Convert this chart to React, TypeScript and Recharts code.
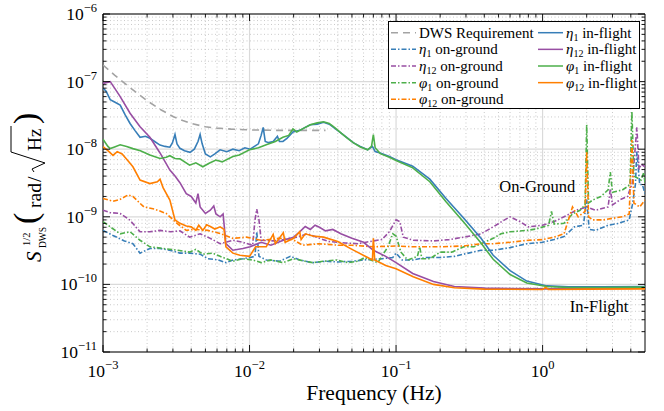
import React from 'react';
import { LineChart, Line, XAxis, YAxis, CartesianGrid, Legend, ReferenceArea, ReferenceDot, Label } from 'recharts';

// [frequency (Hz), S^1/2 (rad/sqrt(Hz))]
const dwsRequirement = [
  [1e-3, 1.76e-7], [1.2e-3, 1.25e-7], [1.5e-3, 8.4e-8], [2e-3, 5.2e-8], [2.5e-3, 3.8e-8], [3e-3, 3.05e-8],
  [3.5e-3, 2.65e-8], [4e-3, 2.4e-8], [5e-3, 2.15e-8], [6e-3, 2.05e-8], [7.5e-3, 1.98e-8], [1e-2, 1.93e-8],
  [1.5e-2, 1.9e-8], [2e-2, 1.9e-8], [3.3e-2, 1.9e-8],
];

const eta1Ground = [
  [1e-3, 6.3e-10], [1.17e-3, 5.3e-10], [1.4e-3, 4.4e-10], [1.6e-3, 4e-10], [1.79e-3, 2.9e-10], [2.09e-3, 3.4e-10],
  [2.45e-3, 3.4e-10], [2.86e-3, 3.2e-10], [3.35e-3, 2.9e-10], [3.9e-3, 2.9e-10], [4.6e-3, 2.8e-10], [5.2e-3, 2.4e-10],
  [6.1e-3, 2.3e-10], [6.9e-3, 2.1e-10], [7.7e-3, 2.3e-10], [9e-3, 2.4e-10], [1.01e-2, 2.5e-10], [1.09e-2, 2.6e-10],
  [1.12e-2, 6e-10], [1.16e-2, 2.6e-10], [1.3e-2, 2.3e-10], [1.6e-2, 2.2e-10], [1.9e-2, 2.6e-10], [2.2e-2, 2.3e-10],
  [2.7e-2, 2.1e-10], [3.3e-2, 2.2e-10], [4e-2, 2.15e-10], [5e-2, 2.2e-10], [6e-2, 2.3e-10], [7e-2, 2.35e-10],
  [8e-2, 2.4e-10], [9.5e-2, 2.5e-10], [0.1, 2.9e-10], [0.11, 2.3e-10], [0.131, 2.3e-10], [0.16, 2.5e-10],
  [0.2, 2.5e-10], [0.25, 2.6e-10], [0.29, 2.8e-10], [0.38, 3.2e-10], [0.46, 3.2e-10], [0.6, 3.5e-10],
  [0.78, 4e-10], [1.0, 4.2e-10], [1.2, 4.6e-10], [1.4, 5.1e-10], [1.65, 7.1e-10], [1.9, 7.5e-10], [2.0, 1.8e-9],
  [2.08, 6.5e-10], [2.3, 6.3e-10], [2.8, 7.5e-10], [3.3, 8e-10], [3.9, 9e-10], [4.1, 1.5e-9], [4.3, 3e-9],
  [4.4, 9.2e-9], [4.6, 3e-9], [4.8, 3e-9], [5, 2.2e-9],
];

const eta12Ground = [
  [1e-3, 1.25e-9], [1.12e-3, 1.15e-9], [1.31e-3, 1.12e-9], [1.53e-3, 8.9e-10], [1.79e-3, 6e-10], [2.09e-3, 6e-10],
  [2.45e-3, 6.3e-10], [2.9e-3, 6e-10], [3.35e-3, 6.2e-10], [3.9e-3, 5e-10], [4.6e-3, 5.6e-10], [5.4e-3, 4.8e-10],
  [6.3e-3, 4e-10], [6.9e-3, 4.2e-10], [7.7e-3, 4.5e-10], [9e-3, 4.2e-10], [1.05e-2, 3.8e-10], [1.09e-2, 9e-10],
  [1.12e-2, 1.3e-9], [1.16e-2, 9e-10], [1.2e-2, 4.5e-10], [1.45e-2, 4.4e-10], [1.7e-2, 4.6e-10], [2.1e-2, 5e-10],
  [2.5e-2, 5.6e-10], [3e-2, 4.8e-10], [3.5e-2, 4.3e-10], [4.5e-2, 4.1e-10], [5.5e-2, 4e-10], [7e-2, 4.4e-10],
  [8e-2, 4.6e-10], [0.09, 6e-10], [0.1, 9e-10], [0.106, 8.5e-10], [0.112, 5e-10], [0.131, 4.5e-10], [0.18, 4.4e-10],
  [0.23, 4.6e-10], [0.29, 5e-10], [0.38, 5.6e-10], [0.46, 7.1e-10], [0.55, 9e-10], [0.6, 1e-9], [0.7, 8.5e-10],
  [0.8, 7.1e-10], [1.0, 7.5e-10], [1.2, 8.5e-10], [1.4, 1e-9], [1.7, 1.25e-9], [2.0, 1.4e-9], [2.3, 1.25e-9],
  [2.8, 1.4e-9], [2.9, 2.6e-9], [3.0, 1.5e-9], [3.4, 1.8e-9], [3.8, 2e-9], [4.1, 3.2e-9], [4.4, 2.1e-8],
  [4.55, 5e-9], [4.7, 6e-9], [5, 5.5e-9],
];

const phi1Ground = [
  [1e-3, 8.5e-10], [1.12e-3, 7.1e-10], [1.31e-3, 5.6e-10], [1.53e-3, 6e-10], [1.79e-3, 4.5e-10], [2.09e-3, 3.6e-10],
  [2.57e-3, 3.4e-10], [3.25e-3, 3.2e-10], [3.9e-3, 3e-10], [4.3e-3, 3.3e-10], [4.8e-3, 2.8e-10], [5.6e-3, 2.9e-10],
  [6.3e-3, 2.6e-10], [7.7e-3, 2.2e-10], [9e-3, 2.4e-10], [1.05e-2, 2.3e-10], [1.2e-2, 2.1e-10], [1.4e-2, 2.3e-10],
  [1.69e-2, 2.1e-10], [2e-2, 2.4e-10], [2.4e-2, 2.2e-10], [2.7e-2, 2.1e-10], [3.2e-2, 2.2e-10], [3.9e-2, 2.3e-10],
  [4.7e-2, 2.1e-10], [5.5e-2, 2.2e-10], [6.1e-2, 2.5e-10], [7.5e-2, 2.1e-10], [8.8e-2, 3.6e-10], [0.095, 5.6e-10],
  [0.1, 5.2e-10], [0.108, 3e-10], [0.12, 2.3e-10], [0.14, 2.6e-10], [0.145, 3.6e-10], [0.15, 2.4e-10],
  [0.17, 2.4e-10], [0.2, 3e-10], [0.24, 3e-10], [0.29, 3.6e-10], [0.34, 3.6e-10], [0.38, 4e-10], [0.46, 4.8e-10],
  [0.52, 5.6e-10], [0.6, 6e-10], [0.78, 6.3e-10], [0.9, 6.6e-10], [1.1, 7.5e-10], [1.15, 1.2e-9], [1.2, 7.8e-10],
  [1.4, 8e-10], [1.6, 1.1e-9], [1.8, 1.25e-9], [1.95, 1.5e-9], [2.0, 2.3e-8], [2.06, 1.6e-9], [2.2, 1.77e-9],
  [2.5, 2e-9], [2.8, 2.5e-9], [2.9, 4.6e-9], [3.0, 2.3e-9], [3.5, 2.5e-9], [3.8, 2.8e-9], [3.95, 3e-9],
  [4.07, 3.6e-8], [4.2, 4e-9], [4.7, 3.5e-9], [4.9, 4.5e-9], [5, 3.2e-9],
];

const phi12Ground = [
  [1e-3, 1.87e-9], [1.17e-3, 1.7e-9], [1.3e-3, 1.8e-9], [1.48e-3, 2.1e-9], [1.6e-3, 2e-9], [1.9e-3, 1.4e-9],
  [2.25e-3, 1.3e-9], [2.7e-3, 1.12e-9], [3.2e-3, 8e-10], [3.7e-3, 6.3e-10], [4.2e-3, 6.5e-10], [5.2e-3, 6.3e-10],
  [6.4e-3, 5.6e-10], [7.7e-3, 4.8e-10], [9.5e-3, 5e-10], [1.2e-2, 4.5e-10], [1.6e-2, 4.8e-10], [1.98e-2, 4.6e-10],
  [2.3e-2, 3.8e-10], [3e-2, 4e-10], [4e-2, 3.8e-10], [5e-2, 3.8e-10], [7e-2, 3.6e-10], [0.1, 3.7e-10],
  [0.13, 3.6e-10], [0.2, 3.6e-10], [0.29, 3.7e-10], [0.38, 4e-10], [0.46, 4e-10], [0.6, 4.2e-10], [0.8, 4.5e-10],
  [1.0, 4.6e-10], [1.2, 5e-10], [1.4, 5.6e-10], [1.6, 1.4e-9], [1.75, 1e-9], [1.95, 1.2e-9], [2.0, 9.2e-9],
  [2.06, 1e-9], [2.2, 9e-10], [2.6, 9e-10], [3.0, 9.5e-10], [3.5, 1e-9], [3.9, 1.1e-9], [4.07, 1.37e-8],
  [4.2, 1.6e-9], [4.6, 1.4e-9], [5, 1.77e-9],
];

const eta1Flight = [
  [1e-3, 8e-8], [1.05e-3, 7.2e-8], [1.12e-3, 5.4e-8], [1.2e-3, 5e-8], [1.31e-3, 4.5e-8], [1.42e-3, 3.2e-8],
  [1.53e-3, 2.4e-8], [1.65e-3, 1.9e-8], [1.79e-3, 1.5e-8], [1.95e-3, 1.55e-8], [2.09e-3, 1.45e-8], [2.25e-3, 1.3e-8],
  [2.45e-3, 1.15e-8], [2.65e-3, 1.1e-8], [2.86e-3, 1.07e-8], [2.98e-3, 1.25e-8], [3.1e-3, 1.65e-8], [3.2e-3, 1.2e-8],
  [3.35e-3, 1.03e-8], [3.6e-3, 9.5e-9], [3.93e-3, 9e-9], [4.2e-3, 1e-8], [4.45e-3, 1.3e-8], [4.6e-3, 1.65e-8],
  [4.75e-3, 1.2e-8], [5e-3, 8.5e-9], [5.4e-3, 7.7e-9], [5.8e-3, 8.5e-9], [6.3e-3, 9.8e-9], [7e-3, 9.2e-9],
  [7.7e-3, 1e-8], [8.5e-3, 9.5e-9], [9.3e-3, 1.05e-8], [1.01e-2, 1e-8], [1.08e-2, 1.1e-8], [1.15e-2, 1.2e-8],
  [1.2e-2, 1.6e-8], [1.24e-2, 2.1e-8], [1.28e-2, 1.3e-8], [1.35e-2, 1.25e-8], [1.45e-2, 1.3e-8], [1.55e-2, 1.55e-8],
  [1.6e-2, 1.3e-8], [1.69e-2, 1.3e-8], [1.8e-2, 1.45e-8], [1.98e-2, 1.8e-8], [2.2e-2, 1.9e-8], [2.4e-2, 2.1e-8],
  [2.6e-2, 2.3e-8], [2.9e-2, 2.35e-8], [3.2e-2, 2.5e-8], [3.5e-2, 2.35e-8], [3.8e-2, 2.05e-8], [4.2e-2, 1.75e-8],
  [4.6e-2, 1.5e-8], [5.1e-2, 1.25e-8], [5.7e-2, 1.1e-8], [6.4e-2, 9.8e-9], [6.9e-2, 1.1e-8], [7.2e-2, 9.2e-9],
  [7.8e-2, 8.8e-9], [0.09, 7.8e-9], [0.1, 7e-9], [0.13, 5.6e-9], [0.17, 3.6e-9], [0.22, 1.85e-9], [0.29, 9.5e-10],
  [0.38, 4.8e-10], [0.46, 2.7e-10], [0.6, 1.6e-10], [0.78, 1.12e-10], [1.07, 9.5e-11], [1.5, 9.2e-11],
  [2.5, 9.2e-11], [5, 9.3e-11],
];

const eta12Flight = [
  [1e-3, 9.4e-8], [1.12e-3, 1e-7], [1.2e-3, 8e-8], [1.31e-3, 6e-8], [1.53e-3, 3.4e-8], [1.79e-3, 2.15e-8],
  [2.09e-3, 1.5e-8], [2.45e-3, 8.8e-9], [2.86e-3, 4.9e-9], [3.1e-3, 4e-9], [3.35e-3, 3.2e-9], [3.7e-3, 2.2e-9],
  [4e-3, 2e-9], [4.3e-3, 1.6e-9], [4.45e-3, 2.2e-9], [4.6e-3, 1.4e-9], [5e-3, 1.12e-9], [5.4e-3, 1.25e-9],
  [5.7e-3, 1.45e-9], [5.9e-3, 1.1e-9], [6.3e-3, 1e-9], [6.6e-3, 1.1e-9], [6.9e-3, 4e-10], [7.7e-3, 3.2e-10],
  [9e-3, 3.4e-10], [1.01e-2, 3.6e-10], [1.2e-2, 4.2e-10], [1.4e-2, 3.8e-10], [1.7e-2, 4.5e-10], [2e-2, 5e-10],
  [2.2e-2, 6e-10], [2.4e-2, 7.2e-10], [2.6e-2, 6.5e-10], [2.8e-2, 7.5e-10], [3e-2, 7e-10], [3.3e-2, 6.2e-10],
  [3.7e-2, 6.5e-10], [4.2e-2, 5.6e-10], [5e-2, 4.8e-10], [6e-2, 4.2e-10], [7e-2, 3.2e-10], [8.5e-2, 2.6e-10],
  [0.1, 2.1e-10], [0.13, 1.45e-10], [0.18, 1.1e-10], [0.25, 9.3e-11], [0.4, 8.8e-11], [1, 8.6e-11],
  [2, 8.7e-11], [5, 8.8e-11],
];

const phi1Flight = [
  [1e-3, 1.4e-8], [1.08e-3, 1.1e-8], [1.12e-3, 1.02e-8], [1.2e-3, 1.08e-8], [1.31e-3, 1.16e-8], [1.45e-3, 1.1e-8],
  [1.6e-3, 1.02e-8], [1.8e-3, 9.5e-9], [2.09e-3, 8.2e-9], [2.45e-3, 7.3e-9], [2.7e-3, 7.6e-9], [2.86e-3, 8e-9],
  [3.1e-3, 7.3e-9], [3.35e-3, 7.2e-9], [3.9e-3, 5.8e-9], [4.3e-3, 6.3e-9], [4.8e-3, 5.5e-9], [5.3e-3, 6.2e-9],
  [5.9e-3, 6.9e-9], [6.5e-3, 6.5e-9], [7.7e-3, 7.8e-9], [8.5e-3, 8.2e-9], [1e-2, 9.8e-9], [1.15e-2, 1.05e-8],
  [1.3e-2, 1.16e-8], [1.5e-2, 1.3e-8], [1.69e-2, 1.5e-8], [1.85e-2, 1.6e-8], [1.98e-2, 2e-8], [2.1e-2, 1.8e-8],
  [2.3e-2, 2e-8], [2.6e-2, 2.3e-8], [2.9e-2, 2.45e-8], [3.2e-2, 2.55e-8], [3.5e-2, 2.4e-8], [3.8e-2, 2.1e-8],
  [4.2e-2, 1.75e-8], [4.6e-2, 1.48e-8], [5.1e-2, 1.25e-8], [5.7e-2, 1.08e-8], [6.4e-2, 9.8e-9], [6.8e-2, 1.1e-8],
  [7e-2, 1.65e-8], [7.2e-2, 1.05e-8], [7.8e-2, 8.6e-9], [0.09, 7.6e-9], [0.1, 6.8e-9], [0.13, 5.3e-9],
  [0.17, 3.3e-9], [0.22, 1.65e-9], [0.29, 8.3e-10], [0.38, 4.1e-10], [0.46, 2.35e-10], [0.6, 1.4e-10],
  [0.78, 1.05e-10], [1.07, 9.3e-11], [1.5, 9e-11], [2.5, 9e-11], [5, 9.1e-11],
];

const phi12Flight = [
  [1e-3, 1.09e-8], [1.08e-3, 9.5e-9], [1.17e-3, 8.1e-9], [1.25e-3, 9.2e-9], [1.35e-3, 8.5e-9], [1.5e-3, 6.5e-9],
  [1.6e-3, 5.5e-9], [1.79e-3, 3.5e-9], [2.09e-3, 3.1e-9], [2.35e-3, 3.3e-9], [2.45e-3, 3.6e-9], [2.57e-3, 2.7e-9],
  [2.86e-3, 1.77e-9], [3.1e-3, 9e-10], [3.35e-3, 8e-10], [3.7e-3, 7.3e-10], [4e-3, 7.1e-10], [4.3e-3, 6.3e-10],
  [4.5e-3, 7.5e-10], [4.8e-3, 6.3e-10], [5.1e-3, 7.6e-10], [5.4e-3, 7.2e-10], [5.8e-3, 6.6e-10], [6.3e-3, 7.1e-10],
  [6.7e-3, 6.5e-10], [6.9e-3, 3.6e-10], [7.7e-3, 2.9e-10], [8.6e-3, 2.7e-10], [1e-2, 2.6e-10], [1.1e-2, 3.6e-10],
  [1.3e-2, 3.6e-10], [1.45e-2, 5.5e-10], [1.5e-2, 4e-10], [1.7e-2, 5.8e-10], [1.75e-2, 4.2e-10], [2e-2, 4.8e-10],
  [2.2e-2, 6e-10], [2.25e-2, 4.6e-10], [2.4e-2, 5.6e-10], [2.7e-2, 5.2e-10], [3.2e-2, 5e-10], [4e-2, 4.3e-10],
  [5e-2, 3.3e-10], [6.4e-2, 2.5e-10], [6.9e-2, 2.3e-10], [7e-2, 4.8e-10], [7.15e-2, 2.3e-10], [8.5e-2, 1.9e-10],
  [0.1, 1.7e-10], [0.131, 1.3e-10], [0.18, 1e-10], [0.25, 8.9e-11], [0.4, 8.5e-11], [1, 8.4e-11], [1.05, 9e-11],
  [1.1, 8.4e-11], [2, 8.5e-11], [5, 8.6e-11],
];

const X_DECADES = [1e-3, 1e-2, 1e-1, 1];
const Y_DECADES = [1e-11, 1e-10, 1e-9, 1e-8, 1e-7, 1e-6];
const MULTIPLIERS = [2, 3, 4, 5, 6, 7, 8, 9];

const X_MINOR = X_DECADES.flatMap((d) => MULTIPLIERS.map((m) => m * d)).filter((v) => v < 5);
const Y_MINOR = Y_DECADES.slice(0, -1).flatMap((d) => MULTIPLIERS.map((m) => m * d));
const X_TICKS = [...X_DECADES, ...X_MINOR].sort((a, b) => a - b);
const Y_TICKS = [...Y_DECADES, ...Y_MINOR].sort((a, b) => a - b);

const FONT = "'Liberation Serif', 'DejaVu Serif', serif";
const BLUE = '#377eb8';
const PURPLE = '#984ea3';
const GREEN = '#4daf4a';
const ORANGE = '#ff7f00';
const GREY = '#a3a3a3';
const DASHDOT = '5 2 1.5 2';
const DASHED = '7 5';

const W = 664;
const H = 411;
const PLOT_LEFT = 103;
const PLOT_RIGHT = 645;
const PLOT_TOP = 14;
const PLOT_BOTTOM = 352;

const toPoints = (arr: number[][]) => arr.map(([f, v]) => ({ f, v }));

const isDecade = (v: number) => Math.abs(Math.log10(v) - Math.round(Math.log10(v))) < 1e-6;
const expText = (v: number) => {
  const e = Math.round(Math.log10(v));
  return e < 0 ? `\u2212${-e}` : `${e}`;
};

const XTick = (props: any) => {
  const { x, payload } = props;
  const major = isDecade(payload.value);
  const len = major ? 7 : 3.5;
  return (
    <g>
      <line x1={x} x2={x} y1={PLOT_BOTTOM} y2={PLOT_BOTTOM - len} stroke="#000" strokeWidth={0.9} />
      <line x1={x} x2={x} y1={PLOT_TOP} y2={PLOT_TOP + len} stroke="#000" strokeWidth={0.9} />
      {major && (
        <text x={x} y={377} textAnchor="middle" fontFamily={FONT} fontSize={17.5} fill="#000">
          10<tspan dy={-8} fontSize={12.5}>{expText(payload.value)}</tspan>
        </text>
      )}
    </g>
  );
};

const YTick = (props: any) => {
  const { y, payload } = props;
  const major = isDecade(payload.value);
  const len = major ? 7 : 3.5;
  return (
    <g>
      <line x1={PLOT_LEFT} x2={PLOT_LEFT + len} y1={y} y2={y} stroke="#000" strokeWidth={0.9} />
      <line x1={PLOT_RIGHT} x2={PLOT_RIGHT - len} y1={y} y2={y} stroke="#000" strokeWidth={0.9} />
      {major && (
        <text x={97} y={y + 6} textAnchor="end" fontFamily={FONT} fontSize={17.5} fill="#000">
          10<tspan dy={-8} fontSize={12.5}>{expText(payload.value)}</tspan>
        </text>
      )}
    </g>
  );
};

const XTitle = () => (
  <text x={374} y={400} textAnchor="middle" fontFamily={FONT} fontSize={21.5} fill="#000">
    Frequency (Hz)
  </text>
);

// rotated axis title: S^{1/2}_{DWS} (rad / sqrt(Hz))
const YTitle = () => (
  <g transform="translate(41, 263) rotate(-90)" fontFamily={FONT} fill="#000">
    <text x={1} y={0} fontSize={21} fontStyle="italic">S</text>
    <text x={17} y={-11} fontSize={10.5}>1/2</text>
    <text x={15} y={4.5} fontSize={9.5}>DWS</text>
    <text x={39} y={-4} fontSize={34}>(</text>
    <text x={55} y={0} fontSize={19.5}>rad</text>
    <text x={81} y={0} fontSize={19.5}>/</text>
    <path d="M91,-7 L94,-9 L100,4 L111,-30 L137,-30" fill="none" stroke="#000" strokeWidth={1} />
    <text x={112} y={0} fontSize={19.5}>Hz</text>
    <text x={139} y={-4} fontSize={34}>)</text>
  </g>
);

type Entry = { sym?: string; sub?: string; label: string; color: string; dash?: string };

const LEGEND_LEFT: Entry[] = [
  { label: 'DWS Requirement', color: GREY, dash: DASHED },
  { sym: '\u03b7', sub: '1', label: ' on-ground', color: BLUE, dash: DASHDOT },
  { sym: '\u03b7', sub: '12', label: ' on-ground', color: PURPLE, dash: DASHDOT },
  { sym: '\u03c6', sub: '1', label: ' on-ground', color: GREEN, dash: DASHDOT },
  { sym: '\u03c6', sub: '12', label: ' on-ground', color: ORANGE, dash: DASHDOT },
];
const LEGEND_RIGHT: Entry[] = [
  { sym: '\u03b7', sub: '1', label: ' in-flight', color: BLUE },
  { sym: '\u03b7', sub: '12', label: ' in-flight', color: PURPLE },
  { sym: '\u03c6', sub: '1', label: ' in-flight', color: GREEN },
  { sym: '\u03c6', sub: '12', label: ' in-flight', color: ORANGE },
];

const LegendItem = ({ e, x, y }: { e: Entry; x: number; y: number }) => (
  <g>
    <line x1={x} x2={x + 25} y1={y} y2={y} stroke={e.color} strokeWidth={1.5} strokeDasharray={e.dash} />
    <text x={x + 28} y={y + 5} fontFamily={FONT} fontSize={15} fill="#000">
      {e.sym && <tspan fontStyle="italic">{e.sym}</tspan>}
      {e.sub && <tspan fontSize={10} dy={3}>{e.sub}</tspan>}
      <tspan dy={e.sub ? -3 : 0}>{e.label}</tspan>
    </text>
  </g>
);

const LegendBox = () => (
  <svg width={252} height={88} style={{ display: 'block' }}>
    <rect x={0.5} y={0.5} width={251} height={87} fill="#fff" stroke="#000" strokeWidth={1} />
    {LEGEND_LEFT.map((e, i) => (
      <LegendItem key={`l${i}`} e={e} x={3} y={11.7 + i * 16.65} />
    ))}
    {LEGEND_RIGHT.map((e, i) => (
      <LegendItem key={`r${i}`} e={e} x={150} y={11.7 + i * 16.65} />
    ))}
  </svg>
);

const SERIES = [
  { key: 'req', data: dwsRequirement, color: GREY, dash: DASHED },
  { key: 'eta1g', data: eta1Ground, color: BLUE, dash: DASHDOT },
  { key: 'eta12g', data: eta12Ground, color: PURPLE, dash: DASHDOT },
  { key: 'phi1g', data: phi1Ground, color: GREEN, dash: DASHDOT },
  { key: 'phi12g', data: phi12Ground, color: ORANGE, dash: DASHDOT },
  { key: 'eta1f', data: eta1Flight, color: BLUE, dash: undefined },
  { key: 'eta12f', data: eta12Flight, color: PURPLE, dash: undefined },
  { key: 'phi1f', data: phi1Flight, color: GREEN, dash: undefined },
  { key: 'phi12f', data: phi12Flight, color: ORANGE, dash: undefined },
];

const App: React.FC = () => {
  return (
    <div style={{ position: 'absolute', left: 0, top: 0, width: W, height: H, background: '#fff' }}>
      <LineChart width={W} height={H} margin={{ top: PLOT_TOP, right: W - PLOT_RIGHT, bottom: 0, left: 0 }}>
        <CartesianGrid horizontalValues={Y_MINOR} verticalValues={X_MINOR} stroke="#bdbdbd" strokeDasharray="1 2.5" strokeWidth={0.8} />
        <CartesianGrid horizontalValues={Y_DECADES} verticalValues={X_DECADES} stroke="#dadada" strokeWidth={1.2} />
        <XAxis
          dataKey="f"
          type="number"
          scale="log"
          domain={[1e-3, 5]}
          allowDataOverflow
          ticks={X_TICKS}
          interval={0}
          tick={<XTick />}
          tickLine={false}
          axisLine={false}
          height={H - PLOT_BOTTOM}
        >
          <Label content={<XTitle />} />
        </XAxis>
        <YAxis
          type="number"
          scale="log"
          domain={[1e-11, 1e-6]}
          allowDataOverflow
          ticks={Y_TICKS}
          interval={0}
          tick={<YTick />}
          tickLine={false}
          axisLine={false}
          width={PLOT_LEFT}
        >
          <Label content={<YTitle />} />
        </YAxis>
        {SERIES.map((s) => (
          <Line
            key={s.key}
            data={toPoints(s.data)}
            dataKey="v"
            type="linear"
            stroke={s.color}
            strokeWidth={1.6}
            strokeDasharray={s.dash}
            dot={false}
            activeDot={false}
            isAnimationActive={false}
          />
        ))}
        <ReferenceArea x1={1e-3} x2={5} y1={1e-11} y2={1e-6} fill="none" stroke="#000" strokeWidth={1} />
        <ReferenceDot x={0.92} y={2.86e-9} r={0} fill="none" stroke="none"
          label={{ value: 'On-Ground', position: 'center', fontFamily: FONT, fontSize: 16.5, fill: '#000' }} />
        <ReferenceDot x={2.43} y={4.8e-11} r={0} fill="none" stroke="none"
          label={{ value: 'In-Flight', position: 'center', fontFamily: FONT, fontSize: 16.5, fill: '#000' }} />
        <Legend
          layout="vertical"
          align="center"
          verticalAlign="middle"
          content={<LegendBox />}
          wrapperStyle={{ position: 'absolute', left: 388, top: 21, width: 252, height: 88 }}
        />
      </LineChart>
    </div>
  );
};

export default App;
